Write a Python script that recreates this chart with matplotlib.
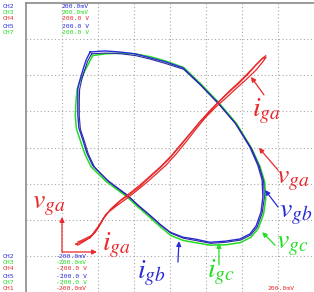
import matplotlib
matplotlib.use("Agg")
import matplotlib.pyplot as plt

plt.rcParams['mathtext.fontset'] = 'stix'

# ---- data (scope divisions) ----
blue_x = [-2.22,-1.81,-1.39,-0.97,-0.56,-0.14,0.36,0.83,1.33,1.81,2.22,2.44,2.56,2.58,2.53,2.39,2.22,1.94,1.53,1.11,0.69,0.36,0.00,-0.28,-0.56,-0.89,-1.19,-1.53,-1.75,-1.94,-2.14,-2.31,-2.42,-2.53,-2.56,-2.56,-2.56,-2.50,-2.42,-2.33,-2.22]
blue_y = [2.65,2.68,2.65,2.60,2.49,2.38,2.21,1.76,1.24,0.68,0.01,-0.49,-0.90,-1.38,-1.79,-2.18,-2.40,-2.54,-2.60,-2.63,-2.54,-2.49,-2.35,-2.13,-1.88,-1.60,-1.32,-1.07,-0.90,-0.71,-0.51,-0.15,0.21,0.54,0.90,1.32,1.65,1.88,2.15,2.43,2.65]
blue2_x = [-2.18,-1.78,-1.36,-0.95,-0.54,-0.12,0.38,0.86,1.36,1.84,2.26,2.48,2.60,2.62,2.56,2.42,2.24,1.96,1.55,1.13,0.71,0.38,0.03,-0.25,-0.53,-0.86,-1.16,-1.50,-1.72,-1.91,-2.10,-2.27,-2.38,-2.49,-2.52,-2.52,-2.51,-2.46,-2.38,-2.29,-2.18]
blue2_y = [2.60,2.62,2.60,2.55,2.45,2.33,2.17,1.72,1.20,0.64,-0.02,-0.52,-0.93,-1.40,-1.82,-2.21,-2.43,-2.57,-2.63,-2.66,-2.58,-2.52,-2.38,-2.16,-1.91,-1.63,-1.35,-1.10,-0.93,-0.74,-0.54,-0.18,0.18,0.51,0.87,1.29,1.62,1.85,2.12,2.39,2.60]
green_x = [-2.15,-1.80,-1.40,-0.98,-0.55,-0.12,0.38,0.85,1.35,1.85,2.27,2.50,2.63,2.66,2.60,2.45,2.25,1.95,1.55,1.12,0.70,0.37,0.02,-0.27,-0.57,-0.90,-1.22,-1.56,-1.79,-1.98,-2.19,-2.37,-2.49,-2.60,-2.63,-2.61,-2.58,-2.50,-2.38,-2.25,-2.15]
green_y = [2.55,2.60,2.62,2.60,2.52,2.40,2.22,1.77,1.25,0.66,-0.03,-0.53,-0.95,-1.42,-1.85,-2.25,-2.49,-2.64,-2.70,-2.71,-2.64,-2.58,-2.44,-2.20,-1.93,-1.64,-1.35,-1.10,-0.93,-0.74,-0.54,-0.17,0.19,0.52,0.88,1.30,1.62,1.85,2.10,2.35,2.55]
red_x = [-2.61,-2.44,-2.22,-2.03,-1.86,-1.67,-1.39,-1.11,-0.83,-0.56,-0.28,0.00,0.28,0.56,0.83,1.11,1.33,1.61,1.89,2.17,2.39,2.56,2.67,
         2.58,2.39,2.11,1.83,1.56,1.28,1.00,0.72,0.44,0.17,-0.11,-0.39,-0.67,-0.94,-1.22,-1.50,-1.78,-1.94,-2.11,-2.33,-2.56,-2.61]
red_y = [-2.68,-2.60,-2.51,-2.29,-1.99,-1.74,-1.49,-1.29,-1.07,-0.82,-0.57,-0.29,0.04,0.38,0.71,1.01,1.24,1.51,1.76,2.04,2.29,2.46,2.51,
         2.38,2.15,1.88,1.63,1.38,1.13,0.85,0.51,0.15,-0.18,-0.49,-0.74,-0.99,-1.21,-1.43,-1.63,-1.85,-2.13,-2.38,-2.57,-2.71,-2.68]
red2_x = [-2.56,-2.40,-2.18,-2.00,-1.82,-1.62,-1.35,-1.07,-0.80,-0.52,-0.24,0.04,0.31,0.60,0.87,1.14,1.37,1.64,1.92,2.20,2.42,2.58,2.66]
red2_y = [-2.62,-2.55,-2.44,-2.20,-1.92,-1.68,-1.44,-1.23,-1.01,-0.76,-0.51,-0.22,0.10,0.44,0.76,1.06,1.29,1.56,1.82,2.10,2.33,2.49,2.55]

top_channels = ["CH2", "CH3", "CH4", "CH5", "CH7"]
top_values = ["200.0mV", "200.0mV", "200.0 V", "200.0 V", "200.0 V"]
bot_channels = ["CH2", "CH3", "CH4", "CH5", "CH7", "CH1"]
bot_values = ["-200.0mV", "-200.0mV", "-200.0 V", "-200.0 V", "-200.0 V", "-200.0mV"]

BLUE = "#2a2ad8"
NAVY = "#2b2b9e"
GREEN = "#22dd22"
RED = "#e8282a"
ch_colors = {"CH1": RED, "CH2": BLUE, "CH3": GREEN, "CH4": RED, "CH5": BLUE, "CH7": GREEN}

W, H = 314, 292
fig = plt.figure(figsize=(W / 100, H / 100), dpi=100)
ax = fig.add_axes([26 / W, 0, (W - 26) / W, (H - 3) / H])
ax.set_xlim(-4, 4)
ax.set_ylim(-4.01, 4.01)
ax.set_xticks([])
ax.set_yticks([])
for s in ["right", "bottom"]:
    ax.spines[s].set_visible(False)
for s in ["left", "top"]:
    ax.spines[s].set_color("#8a8a8a")
    ax.spines[s].set_linewidth(1.2)

for g in range(-3, 4):
    ax.axvline(g, color="#a8a8a8", lw=0.8, ls=(0, (1, 2.2)), zorder=0)
    ax.axhline(g, color="#a8a8a8", lw=0.8, ls=(0, (1, 2.2)), zorder=0)

ax.plot(green_x, green_y, color=GREEN, lw=1.1)
ax.plot(blue_x, blue_y, color=BLUE, lw=1.0)
ax.plot(blue2_x, blue2_y, color=NAVY, lw=0.8)
ax.plot(red_x, red_y, color=RED, lw=0.9)
ax.plot(red2_x, red2_y, color=RED, lw=0.8)

fs = 20
def lab(x, y, s, c):
    ax.text(x, y, s, color=c, fontsize=fs, ha="left", va="baseline")

def arr(x0, y0, x1, y1, c):
    ax.annotate("", xy=(x1, y1), xytext=(x0, y0),
                arrowprops=dict(arrowstyle="-|>", color=c, lw=0.9,
                                mutation_scale=7, shrinkA=0, shrinkB=0))

lab(2.28, 0.85, r"$i_{ga}$", RED)
arr(2.61, 1.46, 2.25, 1.96, RED)
lab(2.94, -0.99, r"$v_{ga}$", RED)
arr(3.0, -0.625, 2.47, -0.01, RED)
lab(3.03, -1.93, r"$v_{gb}$", BLUE)
arr(3.0, -1.65, 2.64, -1.18, BLUE)
lab(2.94, -2.79, r"$v_{gc}$", GREEN)
arr(2.92, -2.71, 2.56, -2.35, GREEN)
lab(-0.92, -3.63, r"$i_{gb}$", BLUE)
arr(0.22, -3.18, 0.25, -2.60, BLUE)
lab(1.03, -3.60, r"$i_{gc}$", GREEN)
arr(1.36, -3.26, 1.36, -2.65, GREEN)
lab(-3.83, -1.68, r"$v_{ga}$", RED)
lab(-1.89, -2.85, r"$i_{ga}$", RED)
arr(-3.0, -2.90, -3.0, -1.93, RED)
arr(-3.0, -2.90, -2.03, -2.90, RED)

tfs = 4.6
mono = "DejaVu Sans Mono"
top_rows = [6, 12, 19, 26, 32]
for ch, val, yy in zip(top_channels, top_values, top_rows):
    c = ch_colors[ch]
    fig.text(3 / W, 1 - yy / H, ch, color=c, fontsize=tfs, family=mono, va="center")
    fig.text(62 / W, 1 - yy / H, val, color=c, fontsize=tfs, family=mono, va="center")
bot_rows = [256, 263, 269, 276, 282, 289]
for ch, val, yy in zip(bot_channels, bot_values, bot_rows):
    c = ch_colors[ch]
    fig.text(3 / W, 1 - yy / H, ch, color=c, fontsize=tfs, family=mono, va="center")
    fig.text(87 / W, 1 - yy / H, val, color=c, fontsize=tfs, family=mono, va="center", ha="right")
fig.text(268 / W, 1 - 289 / H, "200.0mV", color=RED, fontsize=tfs, family=mono, va="center")

fig.savefig("out.png", dpi=100)
